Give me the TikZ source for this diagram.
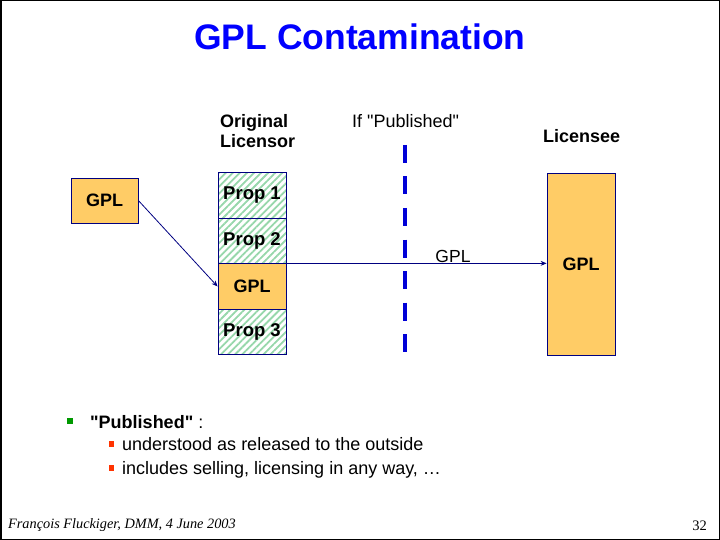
\documentclass[tikz,border=0pt]{standalone}
\usepackage{fontspec}
\setmainfont{Liberation Sans}[Ligatures=TeXOff]
\newfontfamily\footfont{Liberation Serif}
\usetikzlibrary{patterns.meta,arrows.meta}
\definecolor{titleblue}{RGB}{0,0,255}
\definecolor{dashblue}{RGB}{0,0,215}
\definecolor{navy}{RGB}{0,0,128}
\definecolor{gplorange}{RGB}{255,204,102}
\definecolor{hatchgreen}{RGB}{150,215,170}
\definecolor{bulgreen}{RGB}{0,153,0}
\definecolor{bulred}{RGB}{255,51,0}
\tikzset{
  gplbox/.style={draw=navy, line width=0.8pt, fill=gplorange, font=\fontsize{18}{20}\selectfont\bfseries, inner sep=0pt},
  propbox/.style={draw=navy, line width=0.8pt, preaction={fill=white}, pattern={Lines[angle=45,distance=5pt,line width=1.8pt]}, pattern color=hatchgreen, font=\fontsize{18.5}{20}\selectfont\bfseries, inner sep=0pt, minimum width=68pt, minimum height=45.5pt},
  head/.style={font=\fontsize{18}{20}\selectfont\bfseries, inner sep=0pt, anchor=base west},
  plain/.style={font=\fontsize{18}{20}\selectfont, inner sep=0pt, anchor=base west},
  conn/.style={draw=navy, line width=0.8pt, -{Stealth[length=6pt,width=5pt]}},
  sep/.style={draw=dashblue, line width=4.5pt, dash pattern=on 18pt off 13.5pt},
}
\begin{document}
\begin{tikzpicture}[x=1pt,y=-1pt]
\useasboundingbox (0,0) rectangle (720,540);
\draw[line width=1.5pt] (0.75,0.75) rectangle (719.25,539.25);
% title
\node[font=\fontsize{35.5}{40}\selectfont\bfseries, text=titleblue, inner sep=0pt] (title) at (360,37) {GPL Contamination};
% headings
\node[head] (orig1) at (220,128) {Original};
\node[head] (orig2) at (220,148) {Licensor};
\node[plain] (ifpub) at (352,128) {If "Published"};
\node[head] (licensee) at (543,143) {Licensee};
% left GPL
\node[gplbox, minimum width=67pt, minimum height=45pt] (lgpl) at (104.5,200.5) {GPL};
% column
\node[propbox] (prop1) at (252,195.5) {Prop 1};
\node[propbox] (prop2) at (252,241) {Prop 2};
\node[gplbox, minimum width=68pt, minimum height=45.5pt] (pgpl) at (252,286.5) {GPL};
\node[propbox] (prop3) at (252,332) {Prop 3};
% licensee
\node[gplbox, minimum width=68pt, minimum height=182pt] (lic) at (581,264) {GPL};
% dashed separator
\coordinate (septop) at (405,145);
\coordinate (sepbot) at (405,352);
\draw[sep] (septop) -- (sepbot);
% connectors
\draw[conn] (lgpl.east) -- (pgpl.west);
\draw[conn] (pgpl.north east) -- (pgpl.north east -| lic.west);
\node[font=\fontsize{17.5}{20}\selectfont, inner sep=0pt] (gpllabel) at (453,256) {GPL};
% bullets
\node[fill=bulgreen, minimum size=6pt, inner sep=0pt] (b1) at (70,421) {};
\node[plain] (t1) at (90,428) {\textbf{"Published"} :};
\node[fill=bulred, minimum size=5.5pt, inner sep=0pt] (b2) at (111.5,444) {};
\node[plain] (t2) at (122,450) {understood as released to the outside};
\node[fill=bulred, minimum size=5.5pt, inner sep=0pt] (b3) at (111.5,468) {};
\node[plain] (t3) at (122,474) {includes selling, licensing in any way, …};
% footer
\node[font=\fontsize{14.3}{16}\selectfont\footfont\itshape, inner sep=0pt, anchor=base west] (foot) at (8,528) {François Fluckiger, DMM, 4 June 2003};
\node[font=\fontsize{14.5}{16}\selectfont\footfont, inner sep=0pt, anchor=base east] (pnum) at (707,530) {32};
\end{tikzpicture}
\end{document}
